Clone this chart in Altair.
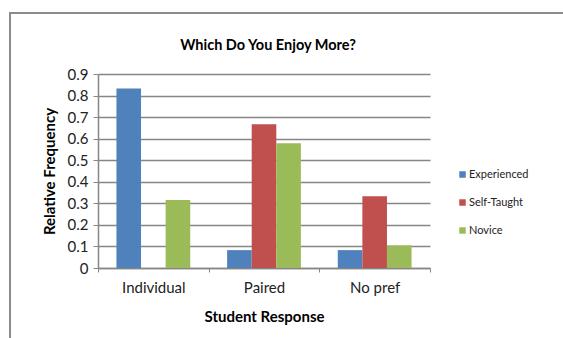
import altair as alt
import pandas as pd

# Survey results: relative frequency of each answer per student group
responses = ["Individual", "Paired", "No pref"]
groups = ["Experienced", "Self-Taught", "Novice"]
experienced = [0.833, 0.083, 0.083]
self_taught = [0.0, 0.667, 0.333]
novice = [0.316, 0.579, 0.105]
colors = ["#4F81BD", "#C0504D", "#9BBB59"]

rows = []
for g, vals in zip(groups, [experienced, self_taught, novice]):
    for r, v in zip(responses, vals):
        rows.append({"Response": r, "Group": g, "Value": v})
df = pd.DataFrame(rows)

FONT = "Lato"
AXIS_GREY = "#868686"

bars = alt.Chart(df).mark_bar().encode(
    x=alt.X(
        "Response:N",
        sort=responses,
        scale=alt.Scale(paddingInner=0, paddingOuter=0),
        axis=alt.Axis(
            title="Student Response",
            labelAngle=0,
            tickBand="extent",
            tickSize=4,
            tickColor=AXIS_GREY,
            domainColor=AXIS_GREY,
            domainWidth=1.5,
            labelFontSize=15,
            labelPadding=8,
            labelColor="#222222",
            titleFontSize=15,
            titleFontWeight="bold",
            titlePadding=14,
            titleColor="#000000",
            grid=False,
        ),
    ),
    xOffset=alt.XOffset(
        "Group:N",
        sort=groups,
        scale=alt.Scale(paddingInner=0, paddingOuter=0.75),
    ),
    y=alt.Y(
        "Value:Q",
        scale=alt.Scale(domain=[0, 0.9], nice=False),
        axis=alt.Axis(
            title="Relative Frequency",
            values=[0, 0.1, 0.2, 0.3, 0.4, 0.5, 0.6, 0.7, 0.8, 0.9],
            format=".1~f",
            tickSize=5,
            tickColor=AXIS_GREY,
            domainColor=AXIS_GREY,
            domainWidth=1.5,
            gridColor=AXIS_GREY,
            gridWidth=1.6,
            labelFontSize=15,
            labelPadding=5,
            labelColor="#222222",
            titleFontSize=15,
            titleFontWeight="bold",
            titlePadding=10,
            titleColor="#000000",
        ),
    ),
    color=alt.Color(
        "Group:N",
        sort=groups,
        scale=alt.Scale(domain=groups, range=colors),
        legend=alt.Legend(
            title=None,
            orient="none",
            legendX=359,
            legendY=95,
            symbolType="square",
            symbolSize=42,
            symbolStrokeWidth=0,
            labelFontSize=11,
            labelColor="#222222",
            labelOffset=1,
            rowPadding=16,
        ),
    ),
)

# Outer chart frame (top and left edges)
frame_top = alt.Chart(df).mark_rule(color="#8c8c8c", strokeWidth=2).encode(
    x=alt.value(-88), x2=alt.value(480), y=alt.value(-61)
)
frame_left = alt.Chart(df).mark_rule(color="#8c8c8c", strokeWidth=2).encode(
    x=alt.value(-88), y=alt.value(-62), y2=alt.value(270)
)

chart = (
    alt.layer(bars, frame_top, frame_left)
    .properties(
        width=332,
        height=194,
        autosize=alt.AutoSizeParams(type="none"),
        padding={"left": 98, "top": 74, "right": 133, "bottom": 70},
        title=alt.Title(
            "Which Do You Enjoy More?",
            fontSize=14.5,
            fontWeight="bold",
            font=FONT,
            color="#000000",
            anchor="middle",
            frame="group",
            baseline="alphabetic",
            offset=0,
            dy=53,
            dx=4,
        ),
    )
    .configure(font=FONT)
    .configure_view(stroke=None)
)

chart.save("out.html", embed_options={"renderer": "svg", "actions": False})
